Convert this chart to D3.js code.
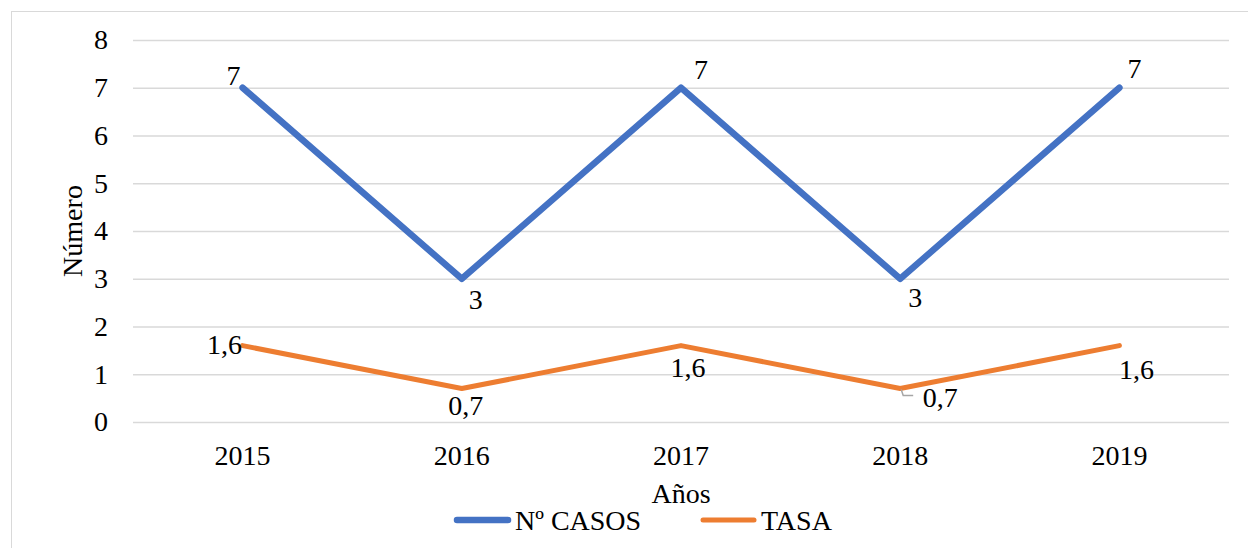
<!DOCTYPE html>
<html>
<head>
<meta charset="utf-8">
<script src="https://cdn.jsdelivr.net/npm/d3@7"></script>
<style>
  body { margin: 0; background: #fff; }
</style>
</head>
<body>
<svg id="chart"></svg>
<script>
const years = ["2015", "2016", "2017", "2018", "2019"];
const casos = [7, 3, 7, 3, 7];
const tasa = [1.6, 0.7, 1.6, 0.7, 1.6];
const yTicks = [0, 1, 2, 3, 4, 5, 6, 7, 8];

const width = 1248, height = 548;
const margin = { top: 40, right: 19, bottom: 126, left: 133 };
const FONT = '"Liberation Serif", "Times New Roman", serif';

const svg = d3.select("#chart").attr("width", width).attr("height", height);

svg.append("rect")
  .attr("x", 11.5).attr("y", 11.5)
  .attr("width", width).attr("height", height)
  .attr("fill", "none").attr("stroke", "#d9d9d9");

const chartWidth = width - margin.left - margin.right;
const chartHeight = height - margin.top - margin.bottom;

const g = svg.append("g").attr("transform", `translate(${margin.left},${margin.top})`);

const x = d3.scaleBand().domain(years).range([0, chartWidth]);
const y = d3.scaleLinear().domain([0, 8]).range([chartHeight, 0]);
const cx = d => x(d) + x.bandwidth() / 2;

const styleText = sel => sel
  .style("font-family", FONT).style("font-size", "28px").attr("fill", "#000");

g.append("g")
  .call(d3.axisLeft(y).tickValues(yTicks).tickSize(-chartWidth).tickFormat(""))
  .call(a => a.select(".domain").remove())
  .selectAll("line").attr("stroke", "#d9d9d9").attr("stroke-width", 1.3);

g.append("g")
  .call(d3.axisLeft(y).tickValues(yTicks).tickSize(0).tickPadding(25))
  .call(a => a.select(".domain").remove())
  .selectAll("text").call(styleText);

g.append("g")
  .attr("transform", `translate(0,${chartHeight})`)
  .call(d3.axisBottom(x).tickSize(0).tickPadding(23))
  .call(a => a.select(".domain").remove())
  .selectAll("text").call(styleText);

const line = d3.line().x((d, i) => cx(years[i])).y(d => y(d));

g.append("path").datum(casos)
  .attr("d", line).attr("fill", "none")
  .attr("stroke", "#4472C4").attr("stroke-width", 6.5)
  .attr("stroke-linecap", "round").attr("stroke-linejoin", "round");

g.append("path").datum(tasa)
  .attr("d", line).attr("fill", "none")
  .attr("stroke", "#ED7D31").attr("stroke-width", 5)
  .attr("stroke-linecap", "round").attr("stroke-linejoin", "round");

const fmt = v => String(v).replace(".", ",");

// label offsets from the point: [dx, dy to baseline]
const casosPos = [[-9, -3], [14, 30], [20, -9], [15, 28], [15, -10]];
const tasaPos = [[-18, 8], [4, 26], [7, 31], [40, 18], [17, 33]];

g.selectAll(".lc").data(casos).enter().append("text")
  .attr("x", (d, i) => cx(years[i]) + casosPos[i][0])
  .attr("y", (d, i) => y(d) + casosPos[i][1])
  .attr("text-anchor", "middle")
  .call(styleText)
  .text(d => fmt(d));

g.selectAll(".lt").data(tasa).enter().append("text")
  .attr("x", (d, i) => cx(years[i]) + tasaPos[i][0])
  .attr("y", (d, i) => y(d) + tasaPos[i][1])
  .attr("text-anchor", "middle")
  .call(styleText)
  .text(d => fmt(d));

// leader line for 2018 tasa label
g.append("path")
  .attr("d", `M${cx("2018") + 1},${y(0.7) + 1} L${cx("2018") + 3},${y(0.7) + 7} L${cx("2018") + 13},${y(0.7) + 7}`)
  .attr("fill", "none").attr("stroke", "#a6a6a6").attr("stroke-width", 1.5);

svg.append("text")
  .attr("transform", `translate(82,${margin.top + chartHeight / 2}) rotate(-90)`)
  .attr("text-anchor", "middle")
  .call(styleText)
  .text("Número");

svg.append("text")
  .attr("x", margin.left + chartWidth / 2).attr("y", 503)
  .attr("text-anchor", "middle")
  .call(styleText)
  .text("Años");

const legend = [
  { name: "Nº CASOS", color: "#4472C4", x: 457, w: 6.5 },
  { name: "TASA", color: "#ED7D31", x: 703, w: 5 }
];
const lg = svg.selectAll(".leg").data(legend).enter().append("g");
lg.append("line")
  .attr("x1", d => d.x).attr("x2", d => d.x + 51)
  .attr("y1", 520).attr("y2", 520)
  .attr("stroke", d => d.color).attr("stroke-width", d => d.w)
  .attr("stroke-linecap", "round");
lg.append("text")
  .attr("x", d => d.x + 58).attr("y", 530)
  .call(styleText)
  .text(d => d.name);
</script>
</body>
</html>
